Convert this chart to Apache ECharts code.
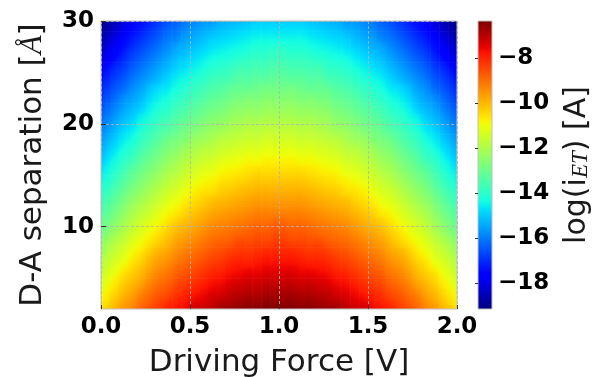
<!DOCTYPE html>
<html>
<head>
<meta charset="utf-8">
<script src="https://cdn.jsdelivr.net/npm/echarts@6/dist/echarts.min.js"></script>
<style>
  html, body { margin: 0; padding: 0; background: #fff; }
  #chart { width: 598px; height: 377px; }
</style>
</head>
<body>
<div id="chart"></div>
<script>
// Cell centres of the map: driving force (V) and donor-acceptor separation (Å)
const driveForce = [0.025, 0.075, 0.125, 0.175, 0.225, 0.275, 0.325, 0.375, 0.425, 0.475,
                    0.525, 0.575, 0.625, 0.675, 0.725, 0.775, 0.825, 0.875, 0.925, 0.975,
                    1.025, 1.075, 1.125, 1.175, 1.225, 1.275, 1.325, 1.375, 1.425, 1.475,
                    1.525, 1.575, 1.625, 1.675, 1.725, 1.775, 1.825, 1.875, 1.925, 1.975];
const separation = [2.5, 3.5, 4.5, 5.5, 6.5, 7.5, 8.5, 9.5, 10.5, 11.5, 12.5, 13.5, 14.5, 15.5,
                    16.5, 17.5, 18.5, 19.5, 20.5, 21.5, 22.5, 23.5, 24.5, 25.5, 26.5, 27.5, 28.5, 29.5];

// log10 of the electron-transfer current, one row per separation (2.5 Å first)
const logCurrent = [
  [-10.5,-10.1,-9.7,-9.4,-9.0,-8.7,-8.4,-8.1,-7.9,-7.7,-7.4,-7.3,-7.1,-6.9,-6.8,-6.7,-6.6,-6.6,-6.5,-6.5,-6.5,-6.5,-6.6,-6.6,-6.7,-6.8,-6.9,-7.1,-7.3,-7.4,-7.7,-7.9,-8.1,-8.4,-8.7,-9.0,-9.4,-9.7,-10.1,-10.5],
  [-10.8,-10.4,-10.0,-9.7,-9.3,-9.0,-8.7,-8.5,-8.2,-8.0,-7.8,-7.6,-7.4,-7.3,-7.1,-7.0,-6.9,-6.9,-6.8,-6.8,-6.8,-6.8,-6.9,-6.9,-7.0,-7.1,-7.3,-7.4,-7.6,-7.8,-8.0,-8.2,-8.5,-8.7,-9.0,-9.3,-9.7,-10.0,-10.4,-10.8],
  [-11.1,-10.7,-10.3,-10.0,-9.7,-9.3,-9.0,-8.8,-8.5,-8.3,-8.1,-7.9,-7.7,-7.6,-7.4,-7.3,-7.2,-7.2,-7.1,-7.1,-7.1,-7.1,-7.2,-7.2,-7.3,-7.4,-7.6,-7.7,-7.9,-8.1,-8.3,-8.5,-8.8,-9.0,-9.3,-9.7,-10.0,-10.3,-10.7,-11.1],
  [-11.4,-11.0,-10.6,-10.3,-10.0,-9.6,-9.3,-9.1,-8.8,-8.6,-8.4,-8.2,-8.0,-7.9,-7.7,-7.6,-7.5,-7.5,-7.4,-7.4,-7.4,-7.4,-7.5,-7.5,-7.6,-7.7,-7.9,-8.0,-8.2,-8.4,-8.6,-8.8,-9.1,-9.3,-9.6,-10.0,-10.3,-10.6,-11.0,-11.4],
  [-11.7,-11.3,-11.0,-10.6,-10.3,-9.9,-9.6,-9.4,-9.1,-8.9,-8.7,-8.5,-8.3,-8.2,-8.0,-7.9,-7.9,-7.8,-7.7,-7.7,-7.7,-7.7,-7.8,-7.9,-7.9,-8.0,-8.2,-8.3,-8.5,-8.7,-8.9,-9.1,-9.4,-9.6,-9.9,-10.3,-10.6,-11.0,-11.3,-11.7],
  [-12.0,-11.6,-11.3,-10.9,-10.6,-10.2,-9.9,-9.7,-9.4,-9.2,-9.0,-8.8,-8.6,-8.5,-8.3,-8.2,-8.2,-8.1,-8.0,-8.0,-8.0,-8.0,-8.1,-8.2,-8.2,-8.3,-8.5,-8.6,-8.8,-9.0,-9.2,-9.4,-9.7,-9.9,-10.2,-10.6,-10.9,-11.3,-11.6,-12.0],
  [-12.3,-11.9,-11.6,-11.2,-10.9,-10.6,-10.3,-10.0,-9.7,-9.5,-9.3,-9.1,-8.9,-8.8,-8.7,-8.5,-8.5,-8.4,-8.4,-8.3,-8.3,-8.4,-8.4,-8.5,-8.5,-8.7,-8.8,-8.9,-9.1,-9.3,-9.5,-9.7,-10.0,-10.3,-10.6,-10.9,-11.2,-11.6,-11.9,-12.3],
  [-12.7,-12.3,-11.9,-11.5,-11.2,-10.9,-10.6,-10.3,-10.0,-9.8,-9.6,-9.4,-9.2,-9.1,-9.0,-8.9,-8.8,-8.7,-8.7,-8.6,-8.6,-8.7,-8.7,-8.8,-8.9,-9.0,-9.1,-9.2,-9.4,-9.6,-9.8,-10.0,-10.3,-10.6,-10.9,-11.2,-11.5,-11.9,-12.3,-12.7],
  [-13.0,-12.6,-12.2,-11.8,-11.5,-11.2,-10.9,-10.6,-10.3,-10.1,-9.9,-9.7,-9.5,-9.4,-9.3,-9.2,-9.1,-9.0,-9.0,-8.9,-8.9,-9.0,-9.0,-9.1,-9.2,-9.3,-9.4,-9.5,-9.7,-9.9,-10.1,-10.3,-10.6,-10.9,-11.2,-11.5,-11.8,-12.2,-12.6,-13.0],
  [-13.3,-12.9,-12.5,-12.1,-11.8,-11.5,-11.2,-10.9,-10.7,-10.4,-10.2,-10.0,-9.8,-9.7,-9.6,-9.5,-9.4,-9.3,-9.3,-9.3,-9.3,-9.3,-9.3,-9.4,-9.5,-9.6,-9.7,-9.8,-10.0,-10.2,-10.4,-10.7,-10.9,-11.2,-11.5,-11.8,-12.1,-12.5,-12.9,-13.3],
  [-13.6,-13.2,-12.8,-12.4,-12.1,-11.8,-11.5,-11.2,-11.0,-10.7,-10.5,-10.3,-10.1,-10.0,-9.9,-9.8,-9.7,-9.6,-9.6,-9.6,-9.6,-9.6,-9.6,-9.7,-9.8,-9.9,-10.0,-10.1,-10.3,-10.5,-10.7,-11.0,-11.2,-11.5,-11.8,-12.1,-12.4,-12.8,-13.2,-13.6],
  [-13.9,-13.5,-13.1,-12.7,-12.4,-12.1,-11.8,-11.5,-11.3,-11.0,-10.8,-10.6,-10.5,-10.3,-10.2,-10.1,-10.0,-9.9,-9.9,-9.9,-9.9,-9.9,-9.9,-10.0,-10.1,-10.2,-10.3,-10.5,-10.6,-10.8,-11.0,-11.3,-11.5,-11.8,-12.1,-12.4,-12.7,-13.1,-13.5,-13.9],
  [-14.2,-13.8,-13.4,-13.0,-12.7,-12.4,-12.1,-11.8,-11.6,-11.3,-11.1,-10.9,-10.8,-10.6,-10.5,-10.4,-10.3,-10.2,-10.2,-10.2,-10.2,-10.2,-10.2,-10.3,-10.4,-10.5,-10.6,-10.8,-10.9,-11.1,-11.3,-11.6,-11.8,-12.1,-12.4,-12.7,-13.0,-13.4,-13.8,-14.2],
  [-14.5,-14.1,-13.7,-13.3,-13.0,-12.7,-12.4,-12.1,-11.9,-11.6,-11.4,-11.2,-11.1,-10.9,-10.8,-10.7,-10.6,-10.5,-10.5,-10.5,-10.5,-10.5,-10.5,-10.6,-10.7,-10.8,-10.9,-11.1,-11.2,-11.4,-11.6,-11.9,-12.1,-12.4,-12.7,-13.0,-13.3,-13.7,-14.1,-14.5],
  [-14.8,-14.4,-14.0,-13.7,-13.3,-13.0,-12.7,-12.4,-12.2,-11.9,-11.7,-11.5,-11.4,-11.2,-11.1,-11.0,-10.9,-10.9,-10.8,-10.8,-10.8,-10.8,-10.9,-10.9,-11.0,-11.1,-11.2,-11.4,-11.5,-11.7,-11.9,-12.2,-12.4,-12.7,-13.0,-13.3,-13.7,-14.0,-14.4,-14.8],
  [-15.1,-14.7,-14.3,-14.0,-13.6,-13.3,-13.0,-12.7,-12.5,-12.2,-12.0,-11.8,-11.7,-11.5,-11.4,-11.3,-11.2,-11.2,-11.1,-11.1,-11.1,-11.1,-11.2,-11.2,-11.3,-11.4,-11.5,-11.7,-11.8,-12.0,-12.2,-12.5,-12.7,-13.0,-13.3,-13.6,-14.0,-14.3,-14.7,-15.1],
  [-15.4,-15.0,-14.6,-14.3,-13.9,-13.6,-13.3,-13.0,-12.8,-12.6,-12.3,-12.2,-12.0,-11.8,-11.7,-11.6,-11.5,-11.5,-11.4,-11.4,-11.4,-11.4,-11.5,-11.5,-11.6,-11.7,-11.8,-12.0,-12.2,-12.3,-12.6,-12.8,-13.0,-13.3,-13.6,-13.9,-14.3,-14.6,-15.0,-15.4],
  [-15.7,-15.3,-14.9,-14.6,-14.2,-13.9,-13.6,-13.4,-13.1,-12.9,-12.7,-12.5,-12.3,-12.2,-12.0,-11.9,-11.8,-11.8,-11.7,-11.7,-11.7,-11.7,-11.8,-11.8,-11.9,-12.0,-12.2,-12.3,-12.5,-12.7,-12.9,-13.1,-13.4,-13.6,-13.9,-14.2,-14.6,-14.9,-15.3,-15.7],
  [-16.0,-15.6,-15.2,-14.9,-14.5,-14.2,-13.9,-13.7,-13.4,-13.2,-13.0,-12.8,-12.6,-12.5,-12.3,-12.2,-12.1,-12.1,-12.0,-12.0,-12.0,-12.0,-12.1,-12.1,-12.2,-12.3,-12.5,-12.6,-12.8,-13.0,-13.2,-13.4,-13.7,-13.9,-14.2,-14.5,-14.9,-15.2,-15.6,-16.0],
  [-16.3,-15.9,-15.5,-15.2,-14.9,-14.5,-14.2,-14.0,-13.7,-13.5,-13.3,-13.1,-12.9,-12.8,-12.6,-12.5,-12.4,-12.4,-12.3,-12.3,-12.3,-12.3,-12.4,-12.4,-12.5,-12.6,-12.8,-12.9,-13.1,-13.3,-13.5,-13.7,-14.0,-14.2,-14.5,-14.9,-15.2,-15.5,-15.9,-16.3],
  [-16.6,-16.2,-15.8,-15.5,-15.2,-14.8,-14.5,-14.3,-14.0,-13.8,-13.6,-13.4,-13.2,-13.1,-12.9,-12.8,-12.7,-12.7,-12.6,-12.6,-12.6,-12.6,-12.7,-12.7,-12.8,-12.9,-13.1,-13.2,-13.4,-13.6,-13.8,-14.0,-14.3,-14.5,-14.8,-15.2,-15.5,-15.8,-16.2,-16.6],
  [-16.9,-16.5,-16.2,-15.8,-15.5,-15.1,-14.8,-14.6,-14.3,-14.1,-13.9,-13.7,-13.5,-13.4,-13.2,-13.1,-13.1,-13.0,-12.9,-12.9,-12.9,-12.9,-13.0,-13.1,-13.1,-13.2,-13.4,-13.5,-13.7,-13.9,-14.1,-14.3,-14.6,-14.8,-15.1,-15.5,-15.8,-16.2,-16.5,-16.9],
  [-17.2,-16.8,-16.5,-16.1,-15.8,-15.5,-15.2,-14.9,-14.6,-14.4,-14.2,-14.0,-13.8,-13.7,-13.6,-13.4,-13.4,-13.3,-13.3,-13.2,-13.2,-13.3,-13.3,-13.4,-13.4,-13.6,-13.7,-13.8,-14.0,-14.2,-14.4,-14.6,-14.9,-15.2,-15.5,-15.8,-16.1,-16.5,-16.8,-17.2],
  [-17.5,-17.1,-16.8,-16.4,-16.1,-15.8,-15.5,-15.2,-14.9,-14.7,-14.5,-14.3,-14.1,-14.0,-13.9,-13.7,-13.7,-13.6,-13.6,-13.5,-13.5,-13.6,-13.6,-13.7,-13.7,-13.9,-14.0,-14.1,-14.3,-14.5,-14.7,-14.9,-15.2,-15.5,-15.8,-16.1,-16.4,-16.8,-17.1,-17.5],
  [-17.9,-17.5,-17.1,-16.7,-16.4,-16.1,-15.8,-15.5,-15.2,-15.0,-14.8,-14.6,-14.4,-14.3,-14.2,-14.1,-14.0,-13.9,-13.9,-13.8,-13.8,-13.9,-13.9,-14.0,-14.1,-14.2,-14.3,-14.4,-14.6,-14.8,-15.0,-15.2,-15.5,-15.8,-16.1,-16.4,-16.7,-17.1,-17.5,-17.9],
  [-18.2,-17.8,-17.4,-17.0,-16.7,-16.4,-16.1,-15.8,-15.5,-15.3,-15.1,-14.9,-14.7,-14.6,-14.5,-14.4,-14.3,-14.2,-14.2,-14.1,-14.1,-14.2,-14.2,-14.3,-14.4,-14.5,-14.6,-14.7,-14.9,-15.1,-15.3,-15.5,-15.8,-16.1,-16.4,-16.7,-17.0,-17.4,-17.8,-18.2],
  [-18.5,-18.1,-17.7,-17.3,-17.0,-16.7,-16.4,-16.1,-15.9,-15.6,-15.4,-15.2,-15.0,-14.9,-14.8,-14.7,-14.6,-14.5,-14.5,-14.5,-14.5,-14.5,-14.5,-14.6,-14.7,-14.8,-14.9,-15.0,-15.2,-15.4,-15.6,-15.9,-16.1,-16.4,-16.7,-17.0,-17.3,-17.7,-18.1,-18.5],
  [-18.8,-18.4,-18.0,-17.6,-17.3,-17.0,-16.7,-16.4,-16.2,-15.9,-15.7,-15.5,-15.4,-15.2,-15.1,-15.0,-14.9,-14.8,-14.8,-14.8,-14.8,-14.8,-14.8,-14.9,-15.0,-15.1,-15.2,-15.4,-15.5,-15.7,-15.9,-16.2,-16.4,-16.7,-17.0,-17.3,-17.6,-18.0,-18.4,-18.8]
];

// Axis extents and tick positions
const forceRange = [0, 2];
const separationRange = [2, 30];
const forceTicks = [0, 0.5, 1, 1.5, 2];
const separationTicks = [10, 20, 30];
const colorRange = [-19.14, -6.34];
const colorTicks = [-18, -16, -14, -12, -10, -8];

// matplotlib "jet" colormap (piecewise linear channels)
const JET = {
  r: [[0, 0], [0.35, 0], [0.66, 1], [0.89, 1], [1, 0.5]],
  g: [[0, 0], [0.125, 0], [0.375, 1], [0.64, 1], [0.91, 0], [1, 0]],
  b: [[0, 0.5], [0.11, 1], [0.34, 1], [0.65, 0], [1, 0]]
};
const JET_BREAKS = [0, 0.11, 0.125, 0.34, 0.35, 0.375, 0.64, 0.65, 0.66, 0.89, 0.91, 1];
function channel(pts, t) {
  for (let i = 1; i < pts.length; i++) {
    if (t <= pts[i][0]) {
      const [x0, y0] = pts[i - 1], [x1, y1] = pts[i];
      return y0 + (y1 - y0) * (t - x0) / (x1 - x0);
    }
  }
  return pts[pts.length - 1][1];
}
function jet(t) {
  t = Math.min(1, Math.max(0, t));
  const c = k => Math.round(channel(JET[k], t) * 255);
  return 'rgb(' + c('r') + ',' + c('g') + ',' + c('b') + ')';
}

const [vMin, vMax] = colorRange;
const norm = v => (v - vMin) / (vMax - vMin);
const dx = driveForce[1] - driveForce[0];
const dy = separation[1] - separation[0];
const nRows = separation.length, nCols = driveForce.length;

const cells = [];
separation.forEach((y, i) => driveForce.forEach((x, j) => cells.push([x, y, logCurrent[i][j]])));

// Per-cell change of the value across one cell, from the neighbouring cells
function stepX(i, j) {
  const j0 = Math.max(0, j - 1), j1 = Math.min(nCols - 1, j + 1);
  return (logCurrent[i][j1] - logCurrent[i][j0]) / (j1 - j0);
}
function stepY(i, j) {
  const i0 = Math.max(0, i - 1), i1 = Math.min(nRows - 1, i + 1);
  return (logCurrent[i1][j] - logCurrent[i0][j]) / (i1 - i0);
}

// Smoothly shaded cell: linear gradient along the local slope of the map
function renderCell(params, api) {
  const idx = params.dataIndex;
  const i = Math.floor(idx / nCols), j = idx % nCols;
  const x = api.value(0), y = api.value(1), v = api.value(2);
  const p0 = api.coord([x - dx / 2, y + dy / 2]);
  const p1 = api.coord([x + dx / 2, y - dy / 2]);
  const w = p1[0] - p0[0], h = p1[1] - p0[1];
  const cx = (p0[0] + p1[0]) / 2, cy = (p0[1] + p1[1]) / 2;
  const ax = stepX(i, j) / w;
  const ay = -stepY(i, j) / h;
  const mag = Math.hypot(ax, ay);
  let fill = jet(norm(v));
  if (mag > 1e-6) {
    const ux = ax / mag, uy = ay / mag;
    const s = (Math.abs(ux) * w + Math.abs(uy) * h) / 2;
    fill = new echarts.graphic.LinearGradient(cx - ux * s, cy - uy * s, cx + ux * s, cy + uy * s, [
      { offset: 0, color: jet(norm(v - mag * s)) },
      { offset: 0.5, color: jet(norm(v)) },
      { offset: 1, color: jet(norm(v + mag * s)) }
    ], true);
  }
  return {
    type: 'rect',
    shape: { x: p0[0], y: p0[1], width: w + 0.6, height: h + 0.6 },
    style: { fill: fill, stroke: null }
  };
}

const tickFont = { fontFamily: 'DejaVu Sans', fontWeight: 'bold', fontSize: 23, color: '#000' };
const titleFont = { fontFamily: 'DejaVu Sans', fontSize: 31, color: '#1a1a1a' };
const gridLine = { show: true, lineStyle: { color: '#b4b4b4', type: [3, 2], width: 1, opacity: 0.8 } };
const tickStyle = { color: '#333', width: 1 };

const chart = echarts.init(document.getElementById('chart'), null, { renderer: 'canvas' });
chart.setOption({
  animation: false,
  grid: [
    { left: 101, top: 21, width: 356, height: 288, show: true, borderColor: '#c0c0c0', borderWidth: 1,
      backgroundColor: 'transparent', z: 10, containLabel: false, outerBoundsMode: 'none' },
    { left: 478, top: 21, width: 14, height: 288, show: true, borderColor: '#c0c0c0', borderWidth: 1,
      backgroundColor: 'transparent', z: 10, containLabel: false, outerBoundsMode: 'none' }
  ],
  xAxis: [
    {
      gridIndex: 0, type: 'value', min: forceRange[0], max: forceRange[1], z: 10,
      axisLine: { show: false },
      axisTick: { inside: true, length: 4, customValues: forceTicks, lineStyle: tickStyle },
      axisLabel: Object.assign({}, tickFont, { margin: 7, customValues: forceTicks, formatter: v => v.toFixed(1) }),
      splitLine: gridLine,
      name: 'Driving Force [V]', nameLocation: 'middle', nameGap: 38, nameTextStyle: titleFont
    },
    { gridIndex: 1, type: 'value', min: 0, max: 1, show: false }
  ],
  yAxis: [
    {
      gridIndex: 0, type: 'value', min: separationRange[0], max: separationRange[1], z: 10,
      axisLine: { show: false },
      axisTick: { inside: true, length: 5, customValues: separationTicks, lineStyle: tickStyle },
      axisLabel: Object.assign({}, tickFont, { margin: 7, customValues: separationTicks }),
      splitLine: gridLine,
      name: 'D-A separation [{a|Å}]', nameLocation: 'middle', nameGap: 53,
      nameTextStyle: Object.assign({}, titleFont, {
        rich: { a: { fontFamily: 'Liberation Serif', fontStyle: 'italic', fontSize: 31, color: '#1a1a1a' } }
      })
    },
    {
      gridIndex: 1, type: 'value', position: 'right', min: vMin, max: vMax, z: 10,
      axisLine: { show: false },
      axisTick: { inside: true, length: 3, customValues: colorTicks, lineStyle: tickStyle },
      axisLabel: Object.assign({}, tickFont, { margin: 6, customValues: colorTicks,
        formatter: v => String(v).replace('-', '\u2212') }),
      splitLine: { show: false },
      name: 'log(i{sub|ET}) [A]', nameLocation: 'middle', nameGap: 70,
      nameTextStyle: Object.assign({}, titleFont, { fontSize: 30,
        rich: { sub: { fontFamily: 'Liberation Serif', fontStyle: 'italic', fontSize: 23, color: '#1a1a1a',
                       verticalAlign: 'bottom' } }
      })
    }
  ],
  series: [
    {
      type: 'custom', xAxisIndex: 0, yAxisIndex: 0, data: cells, clip: true, silent: true, z: 1,
      encode: { x: 0, y: 1 },
      renderItem: renderCell
    },
    {
      type: 'custom', xAxisIndex: 1, yAxisIndex: 1, data: [[0, vMin, vMax]], silent: true, z: 1,
      encode: { x: 0, y: [1, 2] },
      renderItem: (params, api) => {
        const top = api.coord([0, api.value(2)]);
        const bot = api.coord([1, api.value(1)]);
        return {
          type: 'rect',
          shape: { x: top[0], y: top[1], width: bot[0] - top[0], height: bot[1] - top[1] },
          style: {
            fill: new echarts.graphic.LinearGradient(0, 1, 0, 0,
              JET_BREAKS.map(s => ({ offset: s, color: jet(s) })))
          }
        };
      }
    }
  ]
});
</script>
</body>
</html>
